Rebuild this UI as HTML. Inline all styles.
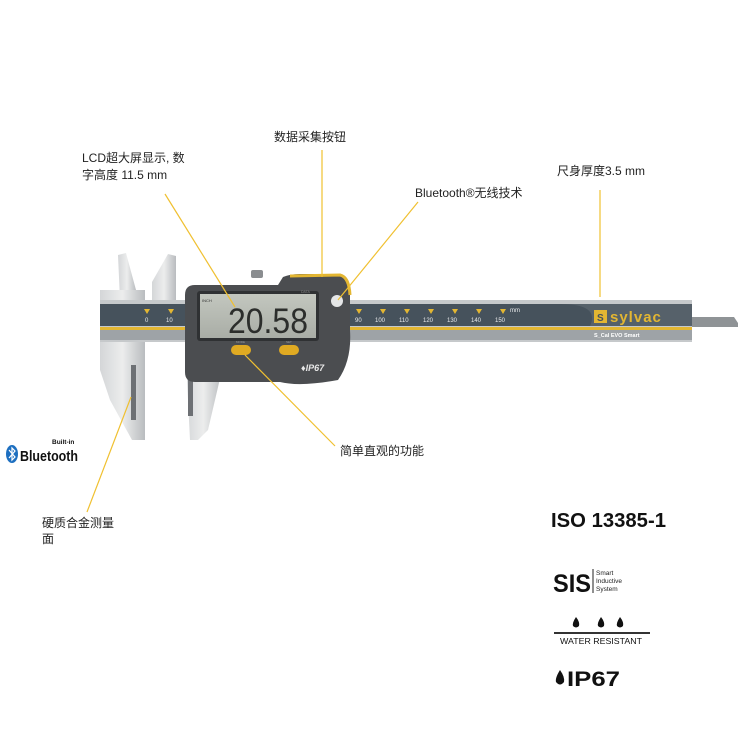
<!DOCTYPE html>
<html><head><meta charset="utf-8"><style>
body{margin:0;background:#fff;}
svg{display:block}
text{font-family:"Liberation Sans","Noto Sans CJK SC",sans-serif;}
</style></head><body>
<svg width="750" height="750" viewBox="0 0 750 750" xmlns="http://www.w3.org/2000/svg">
<defs>
<linearGradient id="jaw" x1="0" x2="1"><stop offset="0" stop-color="#d4d6d8"/><stop offset="0.5" stop-color="#eceded"/><stop offset="1" stop-color="#b9bcbf"/></linearGradient>
<linearGradient id="lcd" x1="0" y1="0" x2="0" y2="1"><stop offset="0" stop-color="#c3c7bf"/><stop offset="1" stop-color="#a9ada6"/></linearGradient>
</defs>
<!-- rod -->
<path d="M690 317 L734 317 L738 323 L738 327 L690 327 Z" fill="#8f9396"/>
<!-- upper tips -->
<path d="M118 255 L126 253 L136 290 L136 300 L120 300 Z" fill="url(#jaw)"/>
<path d="M152 300 L152 282 L168 254 L176 256 L176 300 Z" fill="url(#jaw)"/>
<!-- fixed jaw -->
<path d="M100 290 L145 290 L145 440 L132 440 L110 400 L100 370 Z" fill="url(#jaw)"/>
<rect x="131" y="365" width="5" height="55" fill="#6d7074"/>
<!-- slide jaw lower -->
<path d="M185 340 L222 340 L222 370 L208 430 L198 440 L190 440 Z" fill="url(#jaw)"/>
<rect x="188" y="366" width="5" height="50" fill="#6d7074"/>
<!-- beam -->
<rect x="100" y="300" width="592" height="42" fill="#c6c9cb"/>
<path d="M100 304 L692 304 L692 326 L100 326 Z" fill="#46525c"/>
<path d="M560 304 Q600 304 590 326 L692 326 L692 304 Z" fill="#56616a"/>
<rect x="100" y="327" width="592" height="3" fill="#e3b632"/>
<rect x="100" y="330" width="592" height="10" fill="#9ea3a7"/>
<!-- scale marks -->
<g fill="#e3b632">
<path d="M144 309h6l-3 5z"/><path d="M168 309h6l-3 5z"/>
<path d="M356 309h6l-3 5z"/><path d="M380 309h6l-3 5z"/><path d="M404 309h6l-3 5z"/><path d="M428 309h6l-3 5z"/><path d="M452 309h6l-3 5z"/><path d="M476 309h6l-3 5z"/><path d="M500 309h6l-3 5z"/>
</g>
<g font-size="6" fill="#e8eaec">
<text x="145" y="322">0</text><text x="166" y="322">10</text>
<text x="355" y="322">90</text><text x="375" y="322">100</text><text x="399" y="322">110</text><text x="423" y="322">120</text><text x="447" y="322">130</text><text x="471" y="322">140</text><text x="495" y="322">150</text><text x="510" y="312">mm</text>
</g>
<!-- sylvac logo -->
<rect x="594" y="310" width="13" height="13" fill="#e3b632"/>
<text x="597" y="321" font-size="10" font-weight="bold" fill="#46525c">S</text>
<text x="610" y="322" font-size="15" font-weight="bold" fill="#e3b632" letter-spacing="1">sylvac</text>
<text x="594" y="337" font-size="5.5" font-weight="bold" fill="#fff">S_Cal EVO Smart</text>
<!-- display housing -->
<rect x="251" y="270" width="12" height="8" rx="2" fill="#8a8d90"/>
<path d="M283 277 Q290 274 300 274 L340 274 Q350 276 350 290 L350 330 Q352 360 338 380 Q300 387 280 382 L195 382 Q185 382 185 372 L185 295 Q185 285 195 285 L278 285 Z" fill="#4b4d50" stroke="#e3b632" stroke-width="0"/>
<path d="M290 276 L340 275 Q349 277 350 295" fill="none" stroke="#e3b632" stroke-width="3"/>
<rect x="197" y="291" width="122" height="50" rx="3" fill="#2f3133"/>
<rect x="200" y="294" width="116" height="44" fill="url(#lcd)"/>
<text x="228" y="333" font-size="35" fill="#2c2e2c" font-family="Liberation Sans Narrow,Liberation Sans,sans-serif" textLength="80" lengthAdjust="spacingAndGlyphs">20.58</text>
<text x="202" y="302" font-size="4" fill="#333">INCH</text>
<text x="301" y="293" font-size="3.5" fill="#888">DATA</text>
<rect x="231" y="345" width="20" height="10" rx="5" fill="#e0aa22"/>
<rect x="279" y="345" width="20" height="10" rx="5" fill="#e0aa22"/>
<text x="236" y="343" font-size="3" fill="#999">MODE</text><text x="286" y="343" font-size="3" fill="#999">SET</text>
<text x="301" y="371" font-size="9" font-weight="bold" font-style="italic" fill="#e8e8e8">♦IP67</text>
<circle cx="337" cy="301" r="6" fill="#e5e6e7"/>
<!-- leader lines -->
<g stroke="#f0c030" stroke-width="1.2" fill="none">
<line x1="165" y1="194" x2="235" y2="307"/>
<line x1="322" y1="150" x2="322" y2="277"/>
<line x1="418" y1="202" x2="338" y2="300"/>
<line x1="600" y1="190" x2="600" y2="297"/>
<line x1="335" y1="446" x2="245" y2="355"/>
<line x1="87" y1="512" x2="131" y2="397"/>
</g>
<!-- labels -->
<g font-size="12" fill="#222">
<text x="82" y="162">LCD超大屏显示, 数</text>
<text x="82" y="179">字高度 11.5 mm</text>
<text x="274" y="141">数据采集按钮</text>
<text x="415" y="197">Bluetooth®无线技术</text>
<text x="557" y="175">尺身厚度3.5 mm</text>
<text x="340" y="455">简单直观的功能</text>
<text x="42" y="527">硬质合金测量</text>
<text x="42" y="543">面</text>
</g>
<!-- Bluetooth logo -->
<ellipse cx="12" cy="454" rx="6" ry="9" fill="#1d6fc0"/>
<path d="M9 450 L15 457 L12 460 L12 448 L15 451 L9 458" stroke="#fff" stroke-width="1.2" fill="none"/>
<text x="52" y="444" font-size="6.5" font-weight="bold" fill="#111">Built-in</text>
<text x="20" y="461" font-size="15" font-weight="bold" fill="#111" textLength="58" lengthAdjust="spacingAndGlyphs">Bluetooth</text>
<!-- right logos -->
<text x="551" y="527" font-size="20" font-weight="bold" fill="#111" textLength="115" lengthAdjust="spacingAndGlyphs">ISO 13385-1</text>
<text x="553" y="592" font-size="25" font-weight="bold" fill="#111" textLength="38" lengthAdjust="spacingAndGlyphs">SIS</text>
<line x1="593" y1="569" x2="593" y2="593" stroke="#222" stroke-width="1"/>
<g font-size="6.5" fill="#222"><text x="596" y="575">Smart</text><text x="596" y="583">Inductive</text><text x="596" y="591">System</text></g>
<g fill="#111"><path d="M576 617 Q572 623 573 626 Q576 629 579 626 Q580 622 576 617Z"/><path d="M601 617 Q597 623 598 626 Q601 629 604 626 Q605 622 601 617Z"/><path d="M620 617 Q616 623 617 626 Q620 629 623 626 Q624 622 620 617Z"/></g>
<rect x="554" y="632" width="96" height="2" fill="#333"/>
<text x="560" y="644" font-size="8.5" fill="#111" textLength="82" lengthAdjust="spacingAndGlyphs">WATER RESISTANT</text>
<path d="M560 670 Q555 678 556 682 Q560 687 564 682 Q565 677 560 670Z" fill="#111"/>
<text x="567" y="686" font-size="21" font-weight="bold" fill="#111" textLength="53" lengthAdjust="spacingAndGlyphs">IP67</text>
</svg>
</body></html>
